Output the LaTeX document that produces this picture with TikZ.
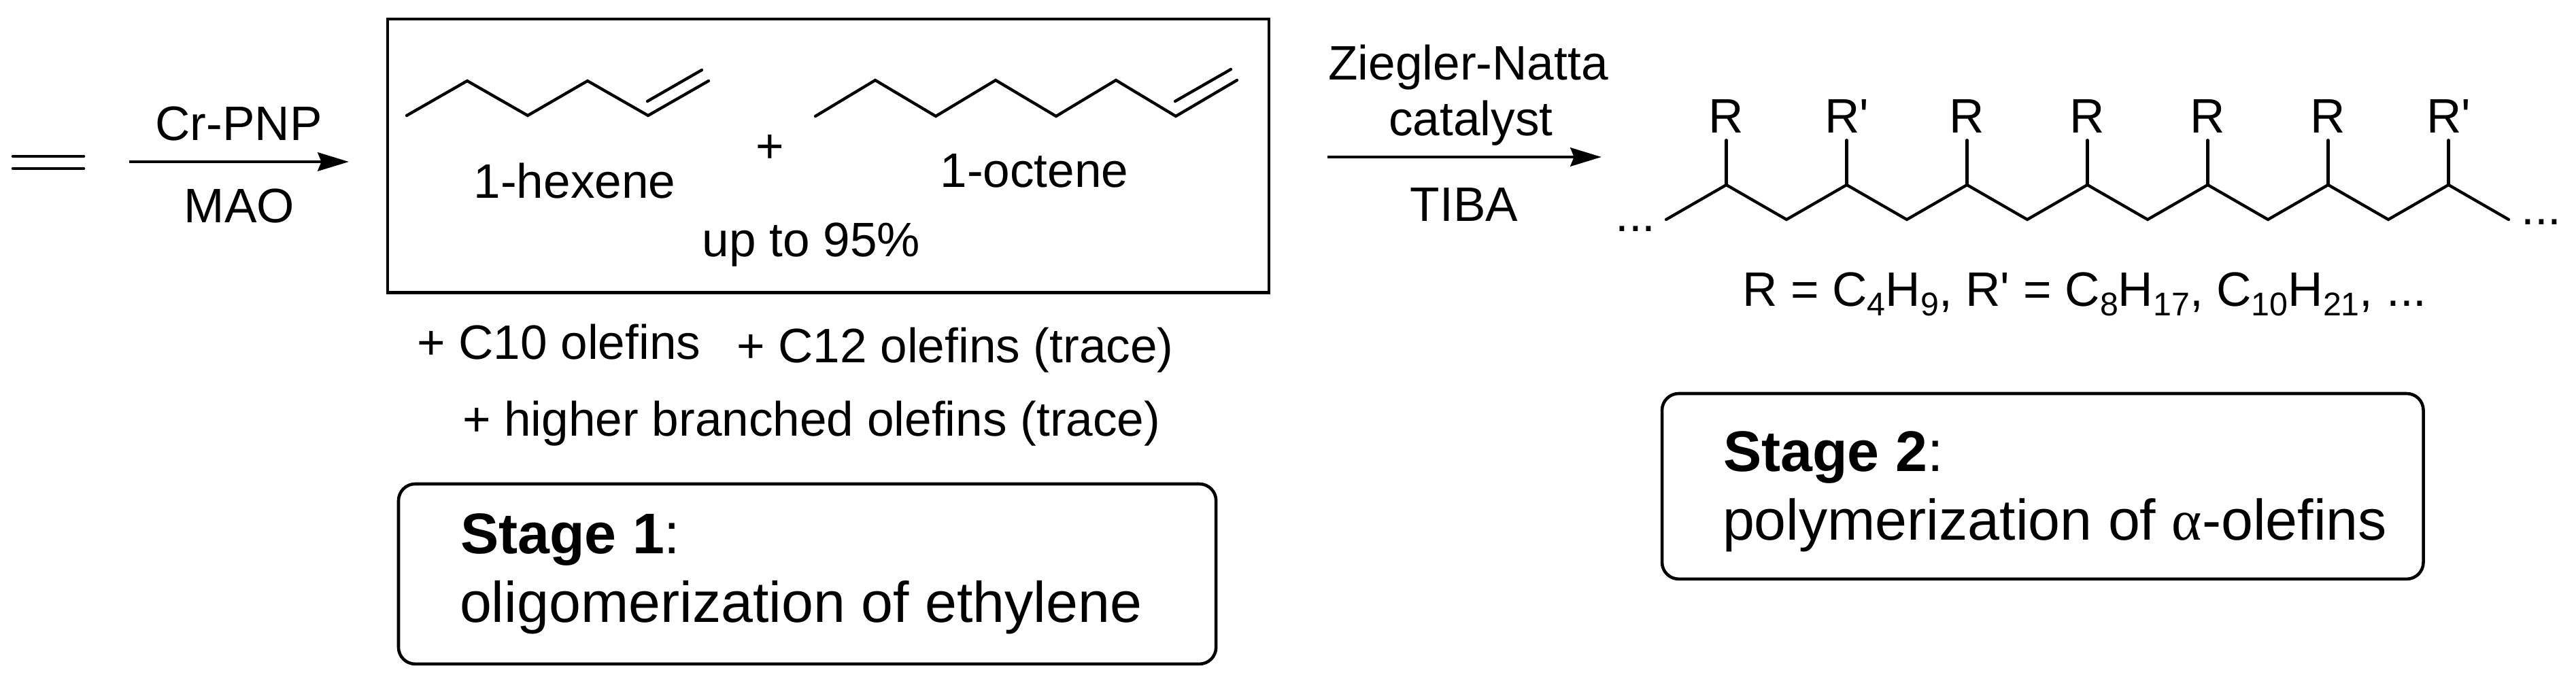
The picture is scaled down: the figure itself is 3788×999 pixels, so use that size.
\documentclass[tikz,border=0pt]{standalone}
\usepackage{fontspec}
\setmainfont{Liberation Sans}
\newfontfamily\symfont{Liberation Serif}
\usetikzlibrary{arrows.meta}
\newcommand{\lowered}[1]{\raisebox{-7.9pt}{\fontsize{27.5}{30}\selectfont #1}}
\tikzset{
  lab/.style={inner sep=0pt,outer sep=0pt,anchor=base,font=\fontsize{40.5}{48}\selectfont},
  labw/.style={lab,anchor=base west},
  big/.style={inner sep=0pt,outer sep=0pt,anchor=base west,font=\fontsize{48}{56}\selectfont},
  bond/.style={line width=2.45pt,line cap=round,line join=miter},
  rxn/.style={line width=2.8pt,-{Stealth[length=26pt,width=15.5pt,inset=3pt]}},
  stagebox/.style={draw,line width=2.6pt,rounded corners=14pt,inner sep=0pt,outer sep=0pt,anchor=north west},
  plainbox/.style={draw,line width=2.6pt,inner sep=0pt,outer sep=0pt,anchor=north west}
}
\begin{document}
\begin{tikzpicture}[x=0.02cm,y=-0.02cm]
\useasboundingbox (0,0) rectangle (3788,999);
% ethylene
\coordinate (e1) at (19,230); \coordinate (e2) at (123,230);
\coordinate (e3) at (19,248); \coordinate (e4) at (123,248);
\draw[line width=2.6pt,line cap=round] (e1) -- (e2);
\draw[line width=2.6pt,line cap=round] (e3) -- (e4);
% arrow 1
\coordinate (a1s) at (190,238); \coordinate (a1e) at (513,238);
\draw[rxn] (a1s) -- (a1e);
\node[lab] (crpnp) at (351,207) {Cr-PNP};
\node[lab] (mao) at (352,328) {MAO};
% product box
\node[plainbox,minimum width=1301*0.5669pt,minimum height=404*0.5669pt] (prodbox) at (570,28) {};
% hexene
\coordinate (h1) at (598,170); \coordinate (h2) at (687,119); \coordinate (h3) at (776,170);
\coordinate (h4) at (864,119); \coordinate (h5) at (953,170); \coordinate (h6) at (1042,119);
\coordinate (h7) at (952,149); \coordinate (h8) at (1032,103);
\draw[bond] (h1) -- (h2) -- (h3) -- (h4) -- (h5) -- (h6);
\draw[bond] (h7) -- (h8);
% octene
\coordinate (o1) at (1199,171); \coordinate (o2) at (1287,118); \coordinate (o3) at (1376,171);
\coordinate (o4) at (1464,118); \coordinate (o5) at (1553,171); \coordinate (o6) at (1641,118);
\coordinate (o7) at (1729,171); \coordinate (o8) at (1819,118);
\coordinate (o9) at (1728,149); \coordinate (o10) at (1810,102);
\draw[bond] (o1) -- (o2) -- (o3) -- (o4) -- (o5) -- (o6) -- (o7) -- (o8);
\draw[bond] (o9) -- (o10);
\node[lab] (plus) at (1132,240) {+};
\node[lab] (hexene) at (845,292) {1-hexene};
\node[lab] (octene) at (1521,276) {1-octene};
\node[lab] (upto) at (1193,378) {up to 95\%};
\node[labw] (c10) at (613,529) {+ C10 olefins};
\node[labw] (c12) at (1083,534) {+ C12 olefins (trace)};
\node[labw] (higher) at (680,642) {+ higher branched olefins (trace)};
% stage 1
\node[stagebox,minimum width=1207*0.5669pt,minimum height=266*0.5669pt] (s1box) at (586,712) {};
\node[big] (s1a) at (677,814) {\textbf{Stage 1}:};
\node[big] (s1b) at (676,915) {oligomerization of ethylene};
% arrow 2
\coordinate (a2s) at (1952,231); \coordinate (a2e) at (2355,231);
\draw[rxn] (a2s) -- (a2e);
\node[lab] (zn) at (2159,118) {Ziegler-Natta};
\node[lab] (cat) at (2163,200) {catalyst};
\node[lab] (tiba) at (2153,326) {TIBA};
% polymer chain
\foreach \i in {0,...,14} {
  \pgfmathsetmacro{\xx}{2450+88.5*\i}
  \pgfmathparse{int(mod(\i,2))}
  \ifnum\pgfmathresult=1
    \coordinate (c\i) at (\xx,272);
  \else
    \coordinate (c\i) at (\xx,323);
  \fi
}
\draw[bond] (c0) -- (c1) -- (c2) -- (c3) -- (c4) -- (c5) -- (c6) -- (c7) -- (c8) -- (c9) -- (c10) -- (c11) -- (c12) -- (c13) -- (c14);
\foreach \i/\t in {1/R,3/R\textquotesingle,5/R,7/R,9/R,11/R,13/R\textquotesingle} {
  \node[lab] (sub\i) at ([yshift=43.65pt]c\i) {\t};
  \coordinate (st\i) at ([yshift=37.4pt]c\i);
  \draw[bond] (c\i) -- (st\i);
}
\node[lab] (dl) at (2405,341) {...};
\node[lab] (dr) at (3737,331) {...};
\node[labw] (formula) at (2562,451) {R = C\lowered{4}H\lowered{9}, R\textquotesingle{} = C\lowered{8}H\lowered{17}, C\lowered{10}H\lowered{21}, ...};
% stage 2
\node[stagebox,minimum width=1124*0.5669pt,minimum height=274*0.5669pt] (s2box) at (2444,579) {};
\node[big] (s2a) at (2534,693) {\textbf{Stage 2}:};
\node[big] (s2b) at (2533,794) {polymerization of {\symfont α}-olefins};
\end{tikzpicture}
\end{document}
